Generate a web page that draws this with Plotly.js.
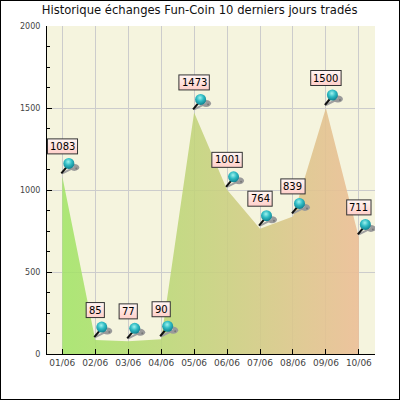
<!DOCTYPE html>
<html>
<head>
<meta charset="utf-8">
<script src="https://cdn.plot.ly/plotly-3.0.1.min.js"></script>
<style>
html,body{margin:0;padding:0;background:#fff}
#chart{position:absolute;left:0;top:0;width:400px;height:400px}
#frame{position:absolute;left:0;top:0;width:398px;height:398px;border:1px solid #000;pointer-events:none}
</style>
</head>
<body>
<div id="chart"></div>
<div id="frame"></div>
<script>
var days = ["01/06","02/06","03/06","04/06","05/06","06/06","07/06","08/06","09/06","10/06"];
var trades = [1083,85,77,90,1473,1001,764,839,1500,711];
var chartTitle = "Historique échanges Fun-Coin 10 derniers jours tradés";
var yTicks = [0,500,1000,1500,2000];

var pxPerCat = 32.93, pxPerUnit = 0.164, imgPx = 80;

function pinImage(text, i){
  var w = text.length * 6.1 + 6;
  var x0 = 40 - w/2;
  var minX = 47.5 - (62.3 + pxPerCat*i - 40);
  if (x0 < minX) { w -= (minX - x0); x0 = minX; }
  var svg = '<svg xmlns="http://www.w3.org/2000/svg" width="80" height="80" viewBox="0 0 80 80">'
    + '<defs><linearGradient id="b" x1="0" y1="0" x2="0" y2="1"><stop offset="0" stop-color="#fff6f4"/><stop offset="1" stop-color="#ffcfc9"/></linearGradient>'
    + '<radialGradient id="s" cx="0.45" cy="0.35" r="0.7"><stop offset="0" stop-color="#9ff2ee"/><stop offset="0.45" stop-color="#2fbcc4"/><stop offset="1" stop-color="#0b7888"/></radialGradient></defs>'
    + '<rect x="'+x0+'" y="2.5" width="'+w+'" height="15" fill="url(#b)" stroke="#333" stroke-width="1"/>'
    + '<path d="M40 37 L50 32" stroke="#a0a0a0" stroke-width="2"/>'
    + '<ellipse cx="52" cy="31" rx="5" ry="3.5" fill="#9a9a9a"/>'
    + '<circle cx="50.5" cy="30" r="1" fill="#cfcfcf"/><circle cx="54" cy="32" r="1" fill="#777"/>'
    + '<path d="M39 37 L44 31" stroke="#111" stroke-width="2"/>'
    + '<circle cx="46.5" cy="27" r="5.5" fill="url(#s)"/>'
    + '</svg>';
  return 'data:image/svg+xml;charset=utf-8,' + encodeURIComponent(svg);
}

var images = days.map(function(d,i){
  return {source: pinImage(String(trades[i]), i), xref:'x', yref:'y', x:d, y:trades[i],
    sizex: imgPx/pxPerCat, sizey: imgPx/pxPerUnit, xanchor:'center', yanchor:'middle',
    sizing:'stretch', layer:'above'};
});
var annotations = days.map(function(d,i){
  return {x:d, y:trades[i], xref:'x', yref:'y', text:String(trades[i]), showarrow:false,
    xanchor:'center', yanchor:'middle', yshift:30,
    font:{family:'DejaVu Sans', size:10, color:'#000'}};
});

var trace = {
  x: days, y: trades, type:'scatter', mode:'lines', fill:'tozeroy',
  line:{width:0, color:'rgba(0,0,0,0)'},
  fillgradient:{type:'horizontal', colorscale:[[0,'rgba(160,228,100,0.85)'],[1,'rgba(236,190,150,0.9)']]},
  hoverinfo:'skip'
};

var layout = {
  width:400, height:400, showlegend:false,
  margin:{l:47,r:25,t:26,b:46,pad:0},
  paper_bgcolor:'#fff', plot_bgcolor:'#f5f4de',
  title:{text:chartTitle, x:0.499, xanchor:'center', xref:'container', y:0.974, yanchor:'middle',
    font:{family:'DejaVu Sans', size:11.6, color:'#111'}},
  xaxis:{type:'category', categoryorder:'array', categoryarray:days, range:[-0.465,9.49],
    showgrid:true, gridcolor:'#cccccc', gridwidth:1, showline:true, linecolor:'#000', linewidth:1,
    ticks:'inside', ticklen:5, tickcolor:'#000', tickwidth:1,
    tickfont:{family:'DejaVu Sans', size:9, color:'#444'}, tickangle:0, zeroline:false},
  yaxis:{range:[0,2000], tickvals:yTicks, showgrid:true, gridcolor:'#cccccc', gridwidth:1,
    showline:true, linecolor:'#000', linewidth:1,
    ticks:'inside', ticklen:5, tickcolor:'#000', tickwidth:1, ticklabelstandoff:4,
    minor:{dtick:125, ticks:'inside', ticklen:3, tickcolor:'#000', tickwidth:1, showgrid:false},
    tickfont:{family:'DejaVu Sans', size:8, color:'#444'}, zeroline:false},
  images:images, annotations:annotations
};
Plotly.newPlot('chart',[trace],layout,{displayModeBar:false,staticPlot:true});
</script>
</body>
</html>
